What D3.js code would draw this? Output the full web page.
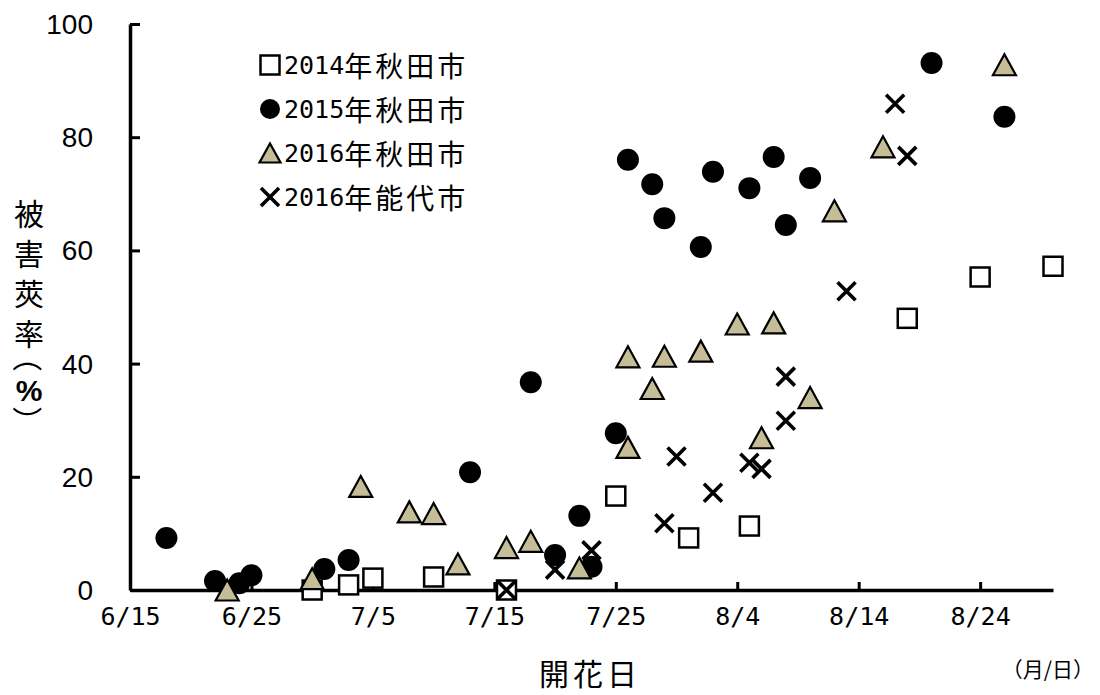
<!DOCTYPE html>
<html>
<head>
<meta charset="utf-8">
<script src="https://cdn.jsdelivr.net/npm/d3@7"></script>
<style>
  html, body { margin: 0; padding: 0; background: #fff; }
  svg { display: block; }
</style>
</head>
<body>
<svg id="chart" width="1100" height="695"></svg>
<script>
// ---- data ----
const xTickLabels = ["6/15", "6/25", "7/5", "7/15", "7/25", "8/4", "8/14", "8/24"];
const yTickValues = [0, 20, 40, 60, 80, 100];

const dates2014 = ["6/30","7/3","7/5","7/10","7/16","7/25","7/31","8/5","8/18","8/24","8/30"];
const vals2014  = [0, 0.9, 2.1, 2.3, 0, 16.6, 9.2, 11.3, 48, 55.3, 57.2];

const dates2015 = ["6/18","6/22","6/24","6/25","7/1","7/3","7/13","7/18","7/20","7/22","7/23","7/25",
                   "7/26","7/28","7/29","8/1","8/2","8/5","8/7","8/8","8/10","8/20","8/26"];
const vals2015  = [9.2, 1.6, 1.2, 2.6, 3.7, 5.3, 20.8, 36.7, 6.2, 13.1, 4.1, 27.7,
                   76, 71.7, 65.7, 60.6, 73.9, 71, 76.5, 64.5, 72.8, 93.1, 83.6];

const dates2016A = ["6/23","6/30","7/4","7/8","7/10","7/12","7/16","7/18","7/22","7/26","7/26",
                    "7/28","7/29","8/1","8/4","8/6","8/7","8/10","8/12","8/16","8/26"];
const vals2016A  = [0, 2.0, 18.3, 13.8, 13.5, 4.6, 7.5, 8.6, 3.9, 25.2, 41.2,
                    35.6, 41.3, 42.2, 47, 26.9, 47.2, 34, 67, 78.3, 92.8];

const dates2016N = ["7/16","7/20","7/23","7/29","7/30","8/2","8/5","8/6","8/8","8/8","8/13","8/17","8/18"];
const vals2016N  = [0, 3.6, 7.0, 11.8, 23.6, 17.2, 22.5, 21.4, 29.9, 37.7, 52.8, 85.9, 76.7];

const legendLabels = [
  {num: "2014", rest: "年秋田市", kind: "square"},
  {num: "2015", rest: "年秋田市", kind: "circle"},
  {num: "2016", rest: "年秋田市", kind: "triangle"},
  {num: "2016", rest: "年能代市", kind: "cross"}
];

// ---- helpers ----
const parseMD = s => { const [m, d] = s.split("/").map(Number); return new Date(Date.UTC(2000, m - 1, d)); };
const zip = (ds, vs) => ds.map((d, i) => ({date: parseMD(d), v: vs[i]}));

const TAN = "#C4BD97";
const svg = d3.select("#chart");

const x = d3.scaleUtc().domain([parseMD("6/15"), parseMD("8/30")]).range([130, 1053]);
const y = d3.scaleLinear().domain([0, 100]).range([590, 24]);

// ---- axes ----
const xAxis = d3.axisBottom(x)
  .tickValues(xTickLabels.map(parseMD))
  .tickFormat((d, i) => xTickLabels[i])
  .tickSize(-8).tickSizeOuter(0);
const gx = svg.append("g").attr("transform", `translate(0,${y(0)})`).call(xAxis);
gx.select(".domain").attr("stroke", "#000").attr("stroke-width", 3.5);
gx.selectAll(".tick line").attr("stroke", "#000").attr("stroke-width", 3);
gx.selectAll(".tick text")
  .attr("y", 26).attr("dy", null)
  .attr("dominant-baseline", "central")
  .attr("font-family", "'DejaVu Sans Mono', monospace")
  .attr("font-size", 25).attr("fill", "#000");

const yAxis = d3.axisLeft(y).tickValues(yTickValues).tickSize(-10).tickSizeOuter(0).tickPadding(37);
const gy = svg.append("g").attr("transform", `translate(130,0)`).call(yAxis);
gy.select(".domain").attr("stroke", "#000").attr("stroke-width", 3.5);
gy.selectAll(".tick line").attr("stroke", "#000").attr("stroke-width", 3);
gy.selectAll(".tick text")
  .attr("dy", null).attr("dominant-baseline", "central")
  .attr("font-family", "'Liberation Sans', Arial, sans-serif")
  .attr("font-size", 28).attr("fill", "#000");

// ---- marker drawers ----
function drawSquare(g, cx, cy, s) {
  g.append("rect").attr("x", cx - s / 2).attr("y", cy - s / 2).attr("width", s).attr("height", s)
    .attr("fill", "#fff").attr("stroke", "#000").attr("stroke-width", 2.5);
}
function drawCircle(g, cx, cy, r) {
  g.append("circle").attr("cx", cx).attr("cy", cy).attr("r", r).attr("fill", "#000");
}
function drawTriangle(g, cx, cy, w, h) {
  g.append("path")
    .attr("d", `M${cx},${cy - h / 2}L${cx + w / 2},${cy + h / 2}L${cx - w / 2},${cy + h / 2}Z`)
    .attr("fill", TAN).attr("stroke", "#000").attr("stroke-width", 2.2).attr("stroke-linejoin", "miter");
}
function drawCross(g, cx, cy, a) {
  g.append("path")
    .attr("d", `M${cx - a},${cy - a}L${cx + a},${cy + a}M${cx - a},${cy + a}L${cx + a},${cy - a}`)
    .attr("stroke", "#000").attr("stroke-width", 3.6).attr("fill", "none");
}

// ---- series ----
const gS = svg.append("g");
zip(dates2014, vals2014).forEach(p => drawSquare(gS, x(p.date), y(p.v), 19));
zip(dates2015, vals2015).forEach(p => drawCircle(gS, x(p.date), y(p.v), 11));
zip(dates2016A, vals2016A).forEach(p => drawTriangle(gS, x(p.date), y(p.v), 23, 21));
zip(dates2016N, vals2016N).forEach(p => drawCross(gS, x(p.date), y(p.v), 9));

// ---- legend ----
const gL = svg.append("g");
const legRowY = [65, 109, 153, 197];
legendLabels.forEach((item, i) => {
  const cy = legRowY[i], cx = 270;
  if (item.kind === "square") drawSquare(gL, cx, cy, 19);
  if (item.kind === "circle") drawCircle(gL, cx, cy, 10);
  if (item.kind === "triangle") drawTriangle(gL, cx, cy, 21, 19);
  if (item.kind === "cross") drawCross(gL, cx, cy, 9);
  const t = gL.append("text").attr("x", 284).attr("y", cy).attr("dominant-baseline", "central").attr("fill", "#000");
  t.append("tspan").attr("font-family", "'DejaVu Sans Mono', monospace").attr("font-size", 25).text(item.num);
  t.append("tspan").attr("font-family", "'Noto Sans CJK JP', sans-serif").attr("font-size", 28)
    .attr("letter-spacing", 3).text(item.rest);
});

// ---- axis titles ----
svg.append("text").attr("x", 590).attr("y", 672).attr("text-anchor", "middle")
  .attr("dominant-baseline", "central")
  .attr("font-family", "'Noto Sans CJK JP', sans-serif").attr("font-size", 30)
  .attr("letter-spacing", 4).attr("fill", "#000").text("開花日");

svg.append("text").attr("x", 1094).attr("y", 668).attr("text-anchor", "end")
  .attr("dominant-baseline", "central")
  .attr("font-family", "'Noto Sans CJK JP', sans-serif").attr("font-size", 21)
  .attr("fill", "#000").text("（月/日）");

// vertical y title: characters stacked, parentheses rotated
const yTitleChars = ["被", "害", "莢", "率", "（", "%", "）"];
const yTitleY = [212, 252, 292, 332, 357, 390, 421];
const gT = svg.append("g");
yTitleChars.forEach((ch, i) => {
  const isParen = ch === "（" || ch === "）";
  const isPct = ch === "%";
  gT.append("text")
    .attr("transform", `translate(29,${yTitleY[i]})` + (isParen ? " rotate(90)" : ""))
    .attr("text-anchor", "middle").attr("dominant-baseline", "central")
    .attr("font-family", isPct ? "'Liberation Sans', Arial, sans-serif" : "'Noto Sans CJK JP', sans-serif")
    .attr("font-weight", isPct ? "bold" : "normal")
    .attr("font-size", isPct ? 30 : 30)
    .attr("fill", "#000").text(ch);
});
</script>
</body>
</html>
